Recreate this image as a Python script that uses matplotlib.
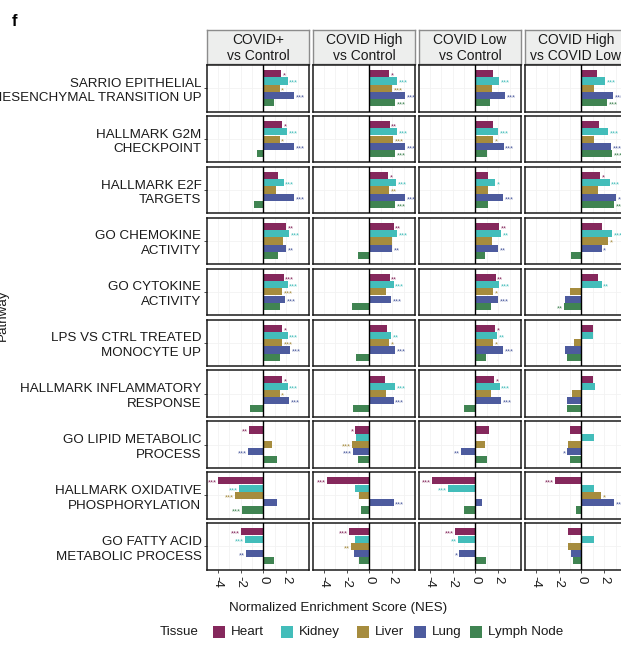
import numpy as np
import matplotlib.pyplot as plt
from matplotlib.patches import Rectangle

plt.rcParams["font.family"] = ["Liberation Sans", "DejaVu Sans"]
plt.rcParams["axes.unicode_minus"] = False

# =========================
# DATA
# =========================
pathways = [
    "SARRIO EPITHELIAL\nMESENCHYMAL TRANSITION UP",
    "HALLMARK G2M\nCHECKPOINT",
    "HALLMARK E2F\nTARGETS",
    "GO CHEMOKINE\nACTIVITY",
    "GO CYTOKINE\nACTIVITY",
    "LPS VS CTRL TREATED\nMONOCYTE UP",
    "HALLMARK INFLAMMATORY\nRESPONSE",
    "GO LIPID METABOLIC\nPROCESS",
    "HALLMARK OXIDATIVE\nPHOSPHORYLATION",
    "GO FATTY ACID\nMETABOLIC PROCESS",
]
comparisons = [
    "COVID+\nvs Control",
    "COVID High\nvs Control",
    "COVID Low\nvs Control",
    "COVID High\nvs COVID Low",
]
tissues = ["Heart", "Kidney", "Liver", "Lung", "Lymph Node"]
colors = ["#85285C", "#43BDBA", "#A68C3E", "#4D5B9E", "#408452"]

# NES, one row per pathway, one column per tissue
nes_pos_vs_ctrl = [
    [1.55, 2.16, 1.46, 2.69, 0.94],
    [1.64, 2.08, 1.46, 2.69, -0.56],
    [1.29, 1.81, 1.11, 2.69, -0.82],
    [1.99, 2.25, 1.73, 1.99, 1.29],
    [1.81, 2.16, 1.64, 1.90, 1.46],
    [1.64, 2.16, 1.64, 2.34, 1.46],
    [1.64, 2.16, 1.46, 2.25, -1.17],
    [-1.26, 0.0, 0.76, -1.34, 1.20],
    [-3.98, -2.13, -2.49, 1.20, -1.87],
    [-1.96, -1.61, 0.0, -1.52, 0.94],
]
nes_high_vs_ctrl = [
    [1.73, 2.43, 1.99, 3.13, 2.25],
    [1.81, 2.43, 2.08, 3.13, 2.25],
    [1.64, 2.34, 1.73, 3.13, 2.25],
    [2.16, 2.43, 1.99, 1.99, -0.99],
    [1.81, 2.16, 1.46, 1.90, -1.52],
    [1.55, 1.90, 1.73, 2.25, -1.17],
    [1.37, 2.25, 1.46, 2.16, -1.43],
    [-1.26, -1.17, -1.52, -1.43, -0.99],
    [-3.71, -1.26, -0.91, 2.16, -0.73],
    [-1.78, -1.26, -1.61, -1.34, -0.91],
]
nes_low_vs_ctrl = [
    [1.55, 2.08, 1.46, 2.60, 1.29],
    [1.55, 1.99, 1.55, 2.51, 1.02],
    [1.11, 1.73, 1.11, 2.43, 1.11],
    [2.08, 2.25, 1.46, 1.99, 0.85],
    [1.81, 2.08, 1.55, 1.99, 1.37],
    [1.73, 1.90, 1.55, 2.43, 0.94],
    [1.64, 2.16, 1.37, 2.25, -0.99],
    [1.20, 0.0, 0.85, -1.26, 1.02],
    [-3.80, -2.40, 0.0, 0.58, -0.99],
    [-1.78, -1.52, 0.0, -1.43, 0.94],
]
nes_high_vs_low = [
    [1.37, 2.08, 1.11, 2.78, 2.25],
    [1.55, 2.34, 1.11, 2.60, 2.69],
    [1.64, 2.51, 1.46, 3.04, 2.87],
    [1.81, 2.69, 2.34, 1.81, -0.91],
    [1.46, 1.81, -0.99, -1.43, -1.52],
    [1.02, 1.02, -0.64, -1.43, -1.26],
    [1.02, 1.20, -0.82, -1.26, -1.26],
    [-0.99, 1.11, -1.17, -1.26, -0.99],
    [-2.31, 1.11, 1.73, 2.87, -0.47],
    [-1.17, 1.11, -1.17, -0.91, -0.73],
]

# significance labels, same layout as NES
sig_pos_vs_ctrl = [
    ["*", "***", "*", "***", ""],
    ["*", "***", "*", "***", ""],
    ["", "***", "", "***", ""],
    ["**", "***", "", "**", ""],
    ["***", "***", "***", "***", ""],
    ["*", "***", "***", "***", ""],
    ["*", "***", "*", "***", ""],
    ["**", "", "", "***", ""],
    ["***", "***", "***", "", "***"],
    ["***", "***", "", "**", ""],
]
sig_high_vs_ctrl = [
    ["*", "***", "***", "***", "***"],
    ["**", "***", "***", "***", "***"],
    ["*", "***", "**", "***", "***"],
    ["**", "***", "", "**", ""],
    ["**", "***", "", "***", ""],
    ["", "**", "*", "***", ""],
    ["", "***", "", "***", ""],
    ["*", "", "***", "***", ""],
    ["***", "", "", "***", ""],
    ["***", "", "**", "", ""],
]
sig_low_vs_ctrl = [
    ["", "***", "", "***", ""],
    ["", "***", "*", "***", ""],
    ["", "*", "", "***", ""],
    ["**", "**", "", "**", ""],
    ["**", "***", "*", "***", ""],
    ["*", "**", "*", "***", ""],
    ["*", "***", "", "***", ""],
    ["", "", "", "**", ""],
    ["***", "***", "", "", ""],
    ["***", "**", "", "*", ""],
]
sig_high_vs_low = [
    ["", "***", "", "***", "***"],
    ["", "***", "", "***", "***"],
    ["*", "***", "", "*", "**"],
    ["", "***", "*", "*", ""],
    ["", "**", "", "", "**"],
    ["", "", "", "", ""],
    ["", "", "", "", ""],
    ["", "", "", "*", ""],
    ["***", "", "*", "**", ""],
    ["", "", "", "", ""],
]

nes_all = [nes_pos_vs_ctrl, nes_high_vs_ctrl, nes_low_vs_ctrl, nes_high_vs_low]
sig_all = [sig_pos_vs_ctrl, sig_high_vs_ctrl, sig_low_vs_ctrl, sig_high_vs_low]

x_ticks = [-4, -2, 0, 2]

# =========================
# LAYOUT (pixels)
# =========================
W, H = 621, 656
fig = plt.figure(figsize=(W / 100, H / 100), dpi=100)

def fig_rect(x, y, w, h):
    return [x / W, 1 - (y + h) / H, w / W, h / H]

col_left = 207
col_step = 106
panel_w = 102
row_top = 65
row_step = 50.9
panel_h = 46.5
strip_top = 30
strip_h = 34
fs = 9.6

n_rows, n_cols = len(pathways), len(comparisons)
ypos = np.arange(len(tissues))

for c in range(n_cols):
    x0 = col_left + c * col_step

    # facet strip
    sax = fig.add_axes(fig_rect(x0, strip_top, panel_w, strip_h))
    sax.set_facecolor("#EDEEED")
    sax.set_xticks([])
    sax.set_yticks([])
    for sp in sax.spines.values():
        sp.set_color("#8C8C8C")
        sp.set_linewidth(1.0)
    sax.text(0.5, 0.47, comparisons[c], ha="center", va="center",
             fontsize=10, color="#1A1A1A", linespacing=1.15,
             transform=sax.transAxes)

    for r in range(n_rows):
        ax = fig.add_axes(fig_rect(x0, row_top + r * row_step, panel_w, panel_h))
        vals = nes_all[c][r]
        sig = sig_all[c][r]

        for g in [-4, -3, -2, -1, 1, 2, 3]:
            ax.axvline(g, color="#F2F2F2", lw=0.6, zorder=0)
        ax.axhline(2, color="#F2F2F2", lw=0.6, zorder=0)

        ax.barh(ypos, vals, height=0.98, color=colors, linewidth=0, zorder=2)
        ax.axvline(0, color="black", lw=1.0, zorder=3)

        for i, (v, s) in enumerate(zip(vals, sig)):
            if not s:
                continue
            if v >= 0:
                ax.text(v + 0.12, i + 0.32, s, ha="left", va="center",
                        fontsize=5.5, color=colors[i], zorder=4)
            else:
                ax.text(v - 0.12, i + 0.32, s, ha="right", va="center",
                        fontsize=5.5, color=colors[i], zorder=4)

        ax.set_xlim(-4.94, 4.0)
        ax.set_ylim(5.2, -1.2)
        for sp in ax.spines.values():
            sp.set_color("#1A1A1A")
            sp.set_linewidth(1.1)

        if c == 0:
            ax.set_yticks([2])
            ax.set_yticklabels([pathways[r]], fontsize=fs, color="#1A1A1A",
                               linespacing=1.3)
            ax.tick_params(axis="y", length=2, width=0.6, color="#333333", pad=2)
        else:
            ax.set_yticks([])

        if r == n_rows - 1:
            ax.set_xticks(x_ticks)
            ax.set_xticklabels([str(t) for t in x_ticks], rotation=-90,
                               fontsize=fs, color="#1A1A1A")
            ax.tick_params(axis="x", length=2.5, width=0.6, color="#333333", pad=2)
        else:
            ax.set_xticks([])

# =========================
# LABELS AND LEGEND
# =========================
fig.text(12 / W, 1 - 21 / H, "f", fontsize=12, fontweight="bold",
         ha="left", va="center")
fig.text(338 / W, 1 - 608 / H, "Normalized Enrichment Score (NES)",
         fontsize=fs, ha="center", va="center", color="#1A1A1A")
fig.text(9 / W, 1 - 315 / H, "Pathway", fontsize=fs, rotation=90,
         ha="right", va="center", color="#1A1A1A")

legend_y = 632
fig.text(160 / W, 1 - legend_y / H, "Tissue", fontsize=fs, ha="left",
         va="center", color="#1A1A1A")
key_x = [213, 281, 357, 414, 470]
key_size = 12
for kx, name, col in zip(key_x, tissues, colors):
    fig.patches.append(Rectangle((kx / W, 1 - (legend_y + key_size / 2) / H),
                                 key_size / W, key_size / H,
                                 transform=fig.transFigure,
                                 facecolor=col, edgecolor="none"))
    fig.text((kx + key_size + 6) / W, 1 - legend_y / H, name, fontsize=fs,
             ha="left", va="center", color="#1A1A1A")

fig.savefig("out.png", dpi=100)
